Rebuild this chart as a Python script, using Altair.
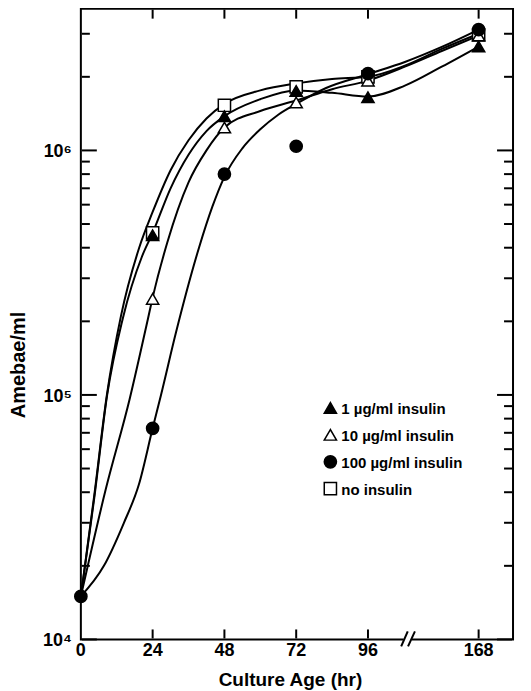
import altair as alt
import pandas as pd

# ---------------- data ----------------
series_names = ["1 µg/ml insulin", "10 µg/ml insulin", "100 µg/ml insulin", "no insulin"]

# measured points (amebae / ml); only the 100 µg/ml dot is visible at 0 h
hours_1 = [24, 48, 72, 96, 168]
amebae_1 = [4.5e5, 1.38e6, 1.75e6, 1.65e6, 2.66e6]
hours_10 = [24, 48, 72, 96, 168]
amebae_10 = [2.47e5, 1.24e6, 1.57e6, 1.93e6, 2.95e6]
hours_100 = [0, 24, 48, 72, 96, 168]
amebae_100 = [1.5e4, 7.3e4, 8.0e5, 1.04e6, 2.06e6, 3.12e6]
hours_none = [24, 48, 72, 96, 168]
amebae_none = [4.6e5, 1.53e6, 1.82e6, 2.0e6, 2.97e6]

# hand-drawn fitted curves
fit_1_hours = [0, 4.5, 8.8, 14, 20.5, 24, 30, 36, 42, 48, 60, 72, 84, 96, 120, 144, 168]
fit_1_values = [1.5e4, 3.8e4, 1.0e5, 2.05e5, 3.7e5, 4.6e5, 7.0e5, 9.6e5, 1.2e6, 1.38e6,
                1.62e6, 1.76e6, 1.72e6, 1.66e6, 1.84e6, 2.2e6, 2.66e6]

fit_10_hours = [0, 8.3, 16.3, 22.4, 24, 28.9, 36, 42, 48, 60, 72, 84, 96, 120, 144, 168]
fit_10_values = [1.5e4, 4.1e4, 9.6e4, 2.04e5, 2.5e5, 4.2e5, 7.4e5, 1.0e6, 1.24e6,
                 1.45e6, 1.6e6, 1.78e6, 1.93e6, 2.2e6, 2.55e6, 2.95e6]

fit_100_hours = [0, 7.7, 14.4, 19.4, 24, 26.8, 31.8, 39.5, 44, 48, 54, 60, 66, 72, 82, 96, 120, 144, 168]
fit_100_values = [1.5e4, 2.0e4, 3.0e4, 4.3e4, 7.3e4, 1.0e5, 1.8e5, 4.0e5, 5.9e5, 7.8e5,
                  1.02e6, 1.22e6, 1.4e6, 1.55e6, 1.8e6, 2.05e6, 2.3e6, 2.65e6, 3.12e6]

fit_none_hours = [0, 4.5, 8.7, 13.4, 19.5, 24, 30, 36, 42, 48, 60, 72, 84, 96, 120, 144, 168]
fit_none_values = [1.5e4, 3.9e4, 1.0e5, 2.1e5, 4.0e5, 5.6e5, 8.3e5, 1.1e6, 1.35e6, 1.55e6,
                   1.76e6, 1.88e6, 1.96e6, 2.0e6, 2.22e6, 2.6e6, 3.0e6]

x_tick_hours = [0, 24, 48, 72, 96, 168]
x_tick_labels = ["0", "24", "48", "72", "96", "168"]
y_major = [10000, 100000, 1000000]
y_major_labels = ["10⁴", "10⁵", "10⁶"]
y_minor = [2e4, 3e4, 4e4, 5e4, 6e4, 7e4, 8e4, 9e4,
           2e5, 3e5, 4e5, 5e5, 6e5, 7e5, 8e5, 9e5, 2e6, 3e6]

# ---------------- layout / style ----------------
W, H = 433, 632
X_MAX = 144.5
Y_MIN, Y_MAX = 10000, 3800000
BREAK = 96          # axis is broken after 96 h
SQUEEZE = 37 / 72   # 96..168 h compressed
FONT = "Liberation Sans"
POS = f"datum.t <= {BREAK} ? datum.t : {BREAK} + (datum.t - {BREAK}) * {SQUEEZE}"
PX_PER_UNIT = W / X_MAX
PX_PER_DECADE = 245.0

xscale = alt.Scale(domain=[0, X_MAX], nice=False, zero=False)
yscale = alt.Scale(type="log", domain=[Y_MIN, Y_MAX], nice=False)
shape_scale = alt.Scale(domain=series_names, range=["triangle-up", "triangle-up", "circle", "square"])
fill_scale = alt.Scale(domain=series_names, range=["black", "white", "black", "white"])
size_scale = alt.Scale(domain=series_names, range=[150, 150, 90, 110])


def rows(name, ts, vs):
    return [(name, t, v) for t, v in zip(ts, vs)]


# draw order: square, open triangle, filled triangle, dot on top
pts = pd.DataFrame(
    rows(series_names[3], hours_none, amebae_none)
    + rows(series_names[1], hours_10, amebae_10)
    + rows(series_names[0], hours_1, amebae_1)
    + rows(series_names[2], hours_100, amebae_100),
    columns=["series", "t", "v"],
)
fits = pd.DataFrame(
    rows(series_names[0], fit_1_hours, fit_1_values)
    + rows(series_names[1], fit_10_hours, fit_10_values)
    + rows(series_names[2], fit_100_hours, fit_100_values)
    + rows(series_names[3], fit_none_hours, fit_none_values),
    columns=["series", "t", "v"],
)


def X():
    return alt.X("pos:Q", scale=xscale, axis=None)


def Y():
    return alt.Y("v:Q", scale=yscale, axis=None)


SHAPE = alt.Shape("series:N", scale=shape_scale, legend=None)
FILL = alt.Fill("series:N", scale=fill_scale, legend=None)
SIZE = alt.Size("series:N", scale=size_scale, legend=None)

curves = alt.Chart(fits).transform_calculate(pos=POS).mark_line(
    interpolate="monotone", color="black", strokeWidth=2
).encode(x=X(), y=Y(), detail="series:N")

markers = alt.Chart(pts).transform_calculate(pos=POS).mark_point(
    filled=True, stroke="black", strokeWidth=1.5, opacity=1
).encode(x=X(), y=Y(), shape=SHAPE, fill=FILL, size=SIZE)

# legend drawn from the series list
legend_df = pd.DataFrame({"series": series_names})
legend_layers = []
for i, name in enumerate(series_names):
    base = alt.Chart(legend_df).transform_filter(alt.datum.series == name)
    legend_layers.append(base.mark_point(filled=True, stroke="black", strokeWidth=1.5, opacity=1).encode(
        x=alt.value(250), y=alt.value(400 + 27 * i), shape=SHAPE, fill=FILL, size=SIZE))
    legend_layers.append(base.mark_text(
        font=FONT, fontSize=15, fontWeight="bold", color="black", align="left", baseline="middle"
    ).encode(x=alt.value(261), y=alt.value(401 + 27 * i), text="series:N"))

xt = pd.DataFrame({"t": x_tick_hours, "label": x_tick_labels})
ymaj = pd.DataFrame({"v": y_major, "label": y_major_labels})
one = pd.DataFrame({"v": [1]})

# inward tick marks on all four sides, drawn through the scales
ytick_table = pd.DataFrame(
    [(v, side, "major") for v in y_major for side in ("left", "right")]
    + [(v, side, "minor") for v in y_minor for side in ("left", "right")],
    columns=["v", "side", "kind"],
)
MAJ_LEN = 15 / PX_PER_UNIT
MIN_LEN = 8 / PX_PER_UNIT
EDGE = 1 / PX_PER_UNIT
yticks = alt.Chart(ytick_table).transform_calculate(
    len=f"datum.kind == 'major' ? {MAJ_LEN} : {MIN_LEN}"
).transform_calculate(
    x0=f"datum.side == 'left' ? {EDGE} : {X_MAX - EDGE}"
).transform_calculate(
    x1=f"datum.side == 'left' ? {EDGE} + datum.len : {X_MAX - EDGE} - datum.len"
).mark_rule(color="black", strokeWidth=2, opacity=1).encode(
    x=alt.X("x0:Q", scale=xscale, axis=None), x2="x1:Q", y=Y()
)

xtick_table = pd.DataFrame(
    [(t, side) for t in x_tick_hours if t > 0 for side in ("bottom", "top")],
    columns=["t", "side"],
)
BOT_F = 10 ** (9 / PX_PER_DECADE)
TOP_F = 10 ** (10 / PX_PER_DECADE)
EDGE_F = 10 ** (1 / PX_PER_DECADE)
xticks = alt.Chart(xtick_table).transform_calculate(pos=POS).transform_calculate(
    y0=f"datum.side == 'bottom' ? {Y_MIN * EDGE_F} : {Y_MAX / EDGE_F}"
).transform_calculate(
    y1=f"datum.side == 'bottom' ? {Y_MIN * BOT_F * EDGE_F} : {Y_MAX / TOP_F}"
).mark_rule(color="black", strokeWidth=2, opacity=1).encode(
    x=X(), y=alt.Y("y0:Q", scale=yscale, axis=None), y2="y1:Q"
)

xlabels = alt.Chart(xt).transform_calculate(pos=POS).mark_text(
    font=FONT, fontSize=18, fontWeight="bold", color="black", baseline="middle"
).encode(x=X(), y=alt.value(H + 12), text="label:N")
ylabels = alt.Chart(ymaj).mark_text(
    font=FONT, fontSize=18, fontWeight="bold", color="black", align="right", baseline="middle", dy=2
).encode(y=Y(), x=alt.value(-9), text="label:N")

xtitle = alt.Chart(one).mark_text(
    text="Culture Age (hr)", font=FONT, fontSize=19, fontWeight="bold", color="black",
    baseline="middle").encode(x=alt.value(210), y=alt.value(H + 41))
ytitle = alt.Chart(one).mark_text(
    text="Amebae/ml", font=FONT, fontSize=20, fontWeight="bold", color="black",
    baseline="middle", angle=270).encode(x=alt.value(-62), y=alt.value(357))

gap = alt.Chart(one).mark_rule(color="white", strokeWidth=5).encode(
    x=alt.X(datum=107.9, scale=xscale, axis=None), x2=alt.X2(datum=110.6), y=alt.value(H))
slash1 = alt.Chart(one).mark_rule(color="black", strokeWidth=2).encode(
    x=alt.X(datum=107.1, scale=xscale, axis=None), x2=alt.X2(datum=109.3),
    y=alt.value(H + 7), y2=alt.value(H - 8))
slash2 = alt.Chart(one).mark_rule(color="black", strokeWidth=2).encode(
    x=alt.X(datum=109.4, scale=xscale, axis=None), x2=alt.X2(datum=111.7),
    y=alt.value(H + 7), y2=alt.value(H - 8))

chart = alt.layer(
    curves, gap, slash1, slash2, xlabels, ylabels, xtitle, ytitle,
    *legend_layers, markers, yticks, xticks
).properties(
    width=W, height=H, background="white",
    autosize=alt.AutoSizeParams(type="none"),
    padding={"left": 73, "top": 0, "right": 10, "bottom": 50},
).configure_view(stroke="black", strokeWidth=2, strokeOpacity=1)

chart.save("out.html", embed_options={"renderer": "svg", "actions": False})
